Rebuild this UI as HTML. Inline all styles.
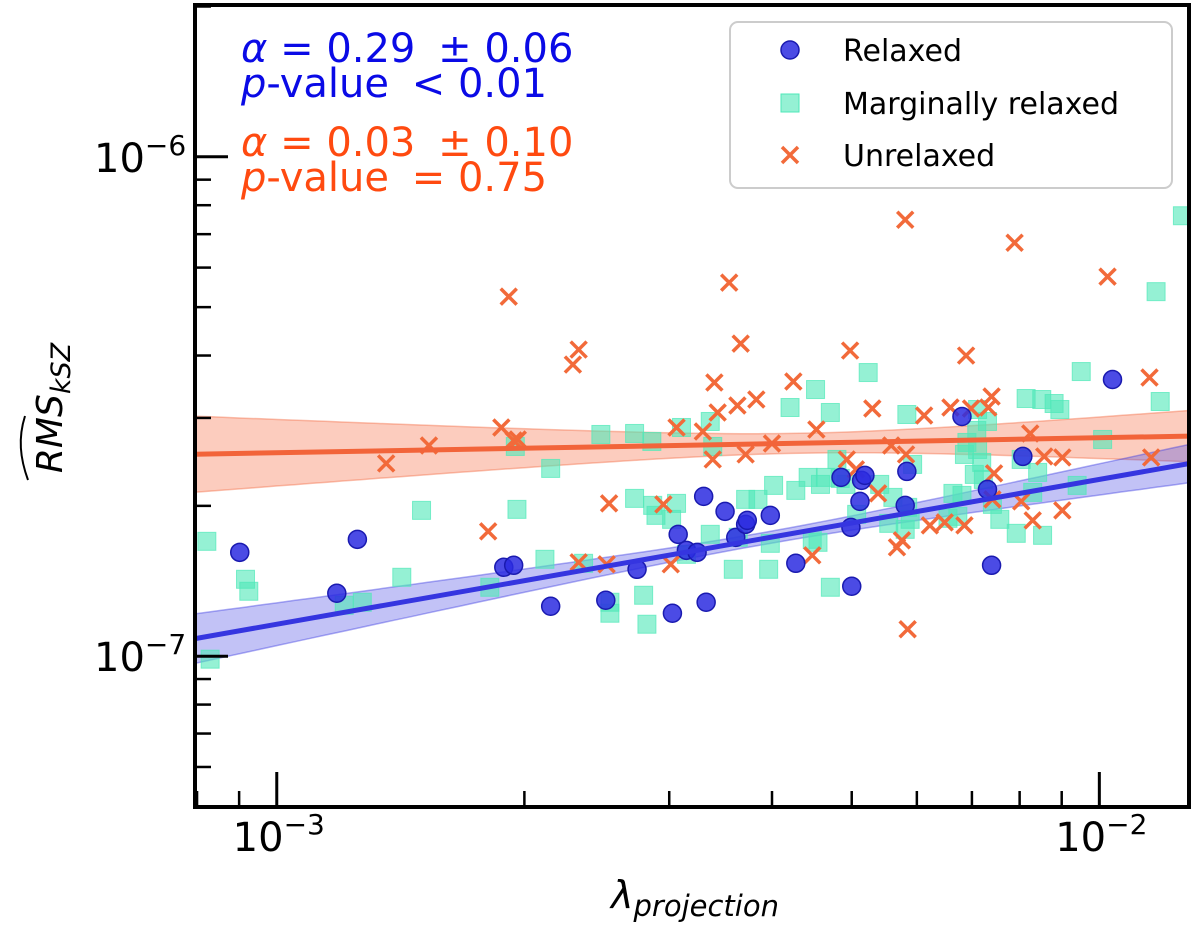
<!DOCTYPE html>
<html><head><meta charset="utf-8"><style>
html,body{margin:0;padding:0;background:#fff;}
svg{display:block;font-family:"DejaVu Sans","Liberation Sans",sans-serif;}
</style></head><body>
<svg id="chart" width="1200" height="934" viewBox="0 0 1200 934">
<g id="bands"></g>
<g id="marks"></g>
<g id="lines"></g>
<g id="axes"></g>
<g font-size="40">
<text x="241" y="62" fill="#0a0ae6"><tspan font-style="italic">α</tspan> = 0.29 <tspan dx="10">±</tspan> 0.06</text>
<text x="241" y="97" fill="#0a0ae6"><tspan font-style="italic">p</tspan>-value <tspan dx="10">&lt;</tspan> 0.01</text>
<text x="241" y="156" fill="#ff4a10"><tspan font-style="italic">α</tspan> = 0.03 <tspan dx="10">±</tspan> 0.10</text>
<text x="241" y="191" fill="#ff4a10"><tspan font-style="italic">p</tspan>-value <tspan dx="10">=</tspan> 0.75</text>
</g>
<g>
<rect x="730" y="22" width="442" height="166" rx="8" fill="#fff" fill-opacity="0.85" stroke="#ccc" stroke-width="2"/>
<g>
<circle cx="790" cy="50" r="9" fill="#2b2be0" fill-opacity="0.85" stroke="#1a1ab0" stroke-width="1.5"/>
<text x="843" y="61" font-size="30">Relaxed</text></g>
<g>
<rect x="781" y="94" width="18" height="18" fill="#4ee8b8" fill-opacity="0.6" stroke="#4ee8b8"/>
<text x="843" y="114" font-size="30">Marginally relaxed</text></g>
<g>
<path d="M782 147 L798 163 M798 147 L782 163" stroke="#f26a3a" stroke-width="3.5"/>
<text x="843" y="166" font-size="30">Unrelaxed</text></g>
</g>
<text x="695" y="908" font-size="38" font-style="italic" text-anchor="middle">λ<tspan font-size="29" dy="8">projection</tspan></text>
<g transform="translate(62,408) rotate(-90)">
<text x="0" y="0" font-size="36" font-style="italic" text-anchor="middle">RMS<tspan font-size="27" dy="8">kSZ</tspan></text>
<path d="M-72 -34 C-50 -42 -30 -44 -8 -37" fill="none" stroke="#000" stroke-width="2"/>
</g>
</svg>
<script>
const relaxedPts=[[-3.045,-6.792],[-2.902,-6.766],[-2.927,-6.874],[-2.724,-6.822],[-2.712,-6.818],[-2.667,-6.900],[-2.600,-6.888],[-2.562,-6.826],[-2.519,-6.914],[-2.512,-6.756],[-2.502,-6.788],[-2.489,-6.792],[-2.481,-6.680],[-2.478,-6.892],[-2.455,-6.710],[-2.442,-6.762],[-2.430,-6.736],[-2.428,-6.728],[-2.400,-6.718],[-2.369,-6.814],[-2.314,-6.642],[-2.302,-6.742],[-2.301,-6.860],[-2.291,-6.690],[-2.289,-6.648],[-2.285,-6.638],[-2.236,-6.698],[-2.234,-6.630],[-2.167,-6.520],[-2.136,-6.666],[-2.131,-6.818],[-2.093,-6.600],[-1.984,-6.446]];
const marginalPts=[[-3.085,-6.770],[-3.081,-7.006],[-3.038,-6.846],[-3.034,-6.870],[-2.918,-6.898],[-2.896,-6.892],[-2.848,-6.842],[-2.824,-6.708],[-2.741,-6.862],[-2.710,-6.580],[-2.708,-6.706],[-2.674,-6.806],[-2.667,-6.624],[-2.627,-6.814],[-2.606,-6.556],[-2.595,-6.914],[-2.595,-6.892],[-2.565,-6.554],[-2.565,-6.684],[-2.554,-6.878],[-2.550,-6.936],[-2.544,-6.570],[-2.543,-6.698],[-2.539,-6.718],[-2.520,-6.726],[-2.514,-6.694],[-2.508,-6.542],[-2.502,-6.796],[-2.473,-6.530],[-2.473,-6.756],[-2.470,-6.580],[-2.445,-6.826],[-2.439,-6.762],[-2.430,-6.686],[-2.415,-6.686],[-2.402,-6.826],[-2.400,-6.774],[-2.396,-6.658],[-2.376,-6.502],[-2.369,-6.668],[-2.354,-6.642],[-2.349,-6.766],[-2.345,-6.466],[-2.342,-6.772],[-2.339,-6.656],[-2.333,-6.642],[-2.327,-6.862],[-2.327,-6.512],[-2.319,-6.606],[-2.315,-6.644],[-2.308,-6.656],[-2.295,-6.716],[-2.281,-6.432],[-2.267,-6.656],[-2.256,-6.734],[-2.251,-6.682],[-2.236,-6.746],[-2.234,-6.516],[-2.233,-6.702],[-2.230,-6.726],[-2.227,-6.616],[-2.184,-6.724],[-2.178,-6.674],[-2.172,-6.720],[-2.167,-6.678],[-2.164,-6.596],[-2.161,-6.572],[-2.152,-6.636],[-2.149,-6.548],[-2.148,-6.506],[-2.143,-6.612],[-2.141,-6.646],[-2.136,-6.530],[-2.130,-6.696],[-2.121,-6.726],[-2.101,-6.754],[-2.095,-6.606],[-2.089,-6.484],[-2.081,-6.672],[-2.075,-6.632],[-2.070,-6.486],[-2.055,-6.494],[-2.048,-6.506],[-2.027,-6.658],[-2.022,-6.430],[-1.931,-6.270],[-1.926,-6.490],[-1.899,-6.118],[-1.996,-6.566],[-2.069,-6.758],[-2.148,-6.586]];
const unrelaxedPts=[[-2.867,-6.614],[-2.815,-6.578],[-2.743,-6.750],[-2.727,-6.542],[-2.718,-6.280],[-2.712,-6.568],[-2.707,-6.566],[-2.640,-6.416],[-2.633,-6.386],[-2.633,-6.812],[-2.599,-6.816],[-2.596,-6.694],[-2.530,-6.696],[-2.521,-6.816],[-2.514,-6.542],[-2.482,-6.550],[-2.470,-6.606],[-2.468,-6.452],[-2.464,-6.512],[-2.450,-6.252],[-2.440,-6.498],[-2.436,-6.374],[-2.430,-6.596],[-2.417,-6.486],[-2.398,-6.574],[-2.372,-6.450],[-2.349,-6.798],[-2.344,-6.546],[-2.307,-6.606],[-2.303,-6.388],[-2.296,-6.626],[-2.276,-6.504],[-2.269,-6.674],[-2.253,-6.578],[-2.246,-6.782],[-2.240,-6.768],[-2.235,-6.596],[-2.213,-6.518],[-2.206,-6.738],[-2.188,-6.732],[-2.181,-6.502],[-2.162,-6.398],[-2.164,-6.738],[-2.156,-6.504],[-2.135,-6.502],[-2.131,-6.480],[-2.130,-6.686],[-2.103,-6.172],[-2.095,-6.690],[-2.084,-6.554],[-2.081,-6.728],[-2.067,-6.600],[-1.990,-6.240],[-1.939,-6.442],[-1.937,-6.602],[-2.236,-6.126],[-2.233,-6.946],[-2.128,-6.634],[-2.045,-6.708],[-2.045,-6.602]];
// fits: [slope, intercept at logX0, logX0, band a, band b]
const relaxedFit=[0.29,-6.7655,-2.412,0.012,0.07];
const unrelaxedFit=[0.03,-6.5735,-2.364,0.02,0.1];
const xDomain=[-3.0994,-1.891];
const yDomain=[-7.302,-5.696];
const xMajor=[-3,-2];
const yMajor=[-7,-6];
const xTickLabels=["10","10"], xTickExp=["−3","−2"];
const yTickLabels=["10","10"], yTickExp=["−7","−6"];

const L=195,R=1189,T=5,B=807;
const NS="http://www.w3.org/2000/svg";
function sx(v){return L+(v-xDomain[0])/(xDomain[1]-xDomain[0])*(R-L);}
function sy(v){return B-(v-yDomain[0])/(yDomain[1]-yDomain[0])*(B-T);}
function mk(tag,attrs,parent){const e=document.createElementNS(NS,tag);for(const k in attrs)e.setAttribute(k,attrs[k]);parent.appendChild(e);return e;}
const bands=document.getElementById('bands'),marks=document.getElementById('marks'),lines=document.getElementById('lines'),axes=document.getElementById('axes');

const defs=mk('defs',{},document.getElementById('chart'));
const cp=mk('clipPath',{id:'pc'},defs);mk('rect',{x:L,y:T,width:R-L,height:B-T},cp);
bands.setAttribute('clip-path','url(#pc)');marks.setAttribute('clip-path','url(#pc)');lines.setAttribute('clip-path','url(#pc)');

function drawFit(fit,color,fill,name){
  const [m,c,x0,a,b]=fit;const up=[],dn=[];
  for(let i=0;i<=60;i++){const x=xDomain[0]+(xDomain[1]-xDomain[0])*i/60;const y=c+m*(x-x0);const h=Math.sqrt(a*a+b*b*(x-x0)*(x-x0));up.push(sx(x).toFixed(1)+','+sy(y+h).toFixed(1));dn.unshift(sx(x).toFixed(1)+','+sy(y-h).toFixed(1));}
  const p=mk('polygon',{points:up.concat(dn).join(' '),fill:fill,stroke:color,'stroke-opacity':0.4,'stroke-width':1.5},bands);
  
  
  const l=mk('line',{x1:sx(xDomain[0]),y1:sy(c+m*(xDomain[0]-x0)),x2:sx(xDomain[1]),y2:sy(c+m*(xDomain[1]-x0)),stroke:color,'stroke-width':5},lines);
  
  
}
drawFit(unrelaxedFit,'#f2643a','rgba(245,110,70,0.35)','unrelaxed');
drawFit(relaxedFit,'#3535e0','rgba(80,80,230,0.35)','relaxed');

marginalPts.forEach(p=>{const e=mk('rect',{x:sx(p[0])-9,y:sy(p[1])-9,width:18,height:18,fill:'#4ee8b8','fill-opacity':0.6,stroke:'#4ee8b8','stroke-opacity':0.7},marks);
  
  });
unrelaxedPts.forEach(p=>{const x=sx(p[0]),y=sy(p[1]);const e=mk('path',{d:`M${x-8} ${y-8}L${x+8} ${y+8}M${x+8} ${y-8}L${x-8} ${y+8}`,stroke:'#f26a3a','stroke-width':3.5},marks);
  
  });
relaxedPts.forEach(p=>{const e=mk('circle',{cx:sx(p[0]),cy:sy(p[1]),r:9,fill:'#2b2be0','fill-opacity':0.85,stroke:'#1a1ab0','stroke-width':1.5},marks);
  
  });

const fr=mk('rect',{x:L,y:T,width:R-L,height:B-T,fill:'none',stroke:'#000','stroke-width':4},axes);


for(let d=-4;d<=-1;d++){for(let k=1;k<10;k++){const v=d+Math.log10(k);if(v<xDomain[0]||v>xDomain[1])continue;const x=sx(v);const len=k===1?35:16;
  const t=mk('line',{x1:x,y1:B,x2:x,y2:B-len,stroke:'#000','stroke-width':k===1?3:2.5},axes);
  
  }}
xMajor.forEach((v,i)=>{const t=mk('text',{x:sx(v)+2,y:851,'font-size':40,'text-anchor':'middle'},axes);t.textContent=xTickLabels[i];
  const s=mk('tspan',{'font-size':28,dy:-17},t);s.textContent=xTickExp[i];
  
  });
for(let d=-8;d<=-5;d++){for(let k=1;k<10;k++){const v=d+Math.log10(k);if(v<yDomain[0]||v>yDomain[1])continue;const y=sy(v);const len=k===1?33:16;
  const t=mk('line',{x1:L,y1:y,x2:L+len,y2:y,stroke:'#000','stroke-width':k===1?3:2.5},axes);
  
  }}
yMajor.forEach((v,i)=>{const t=mk('text',{x:94,y:sy(v)+15,'font-size':40},axes);t.textContent=yTickLabels[i];
  const s=mk('tspan',{'font-size':28,dy:-17},t);s.textContent=yTickExp[i];
  
  });
</script>
</body></html>
